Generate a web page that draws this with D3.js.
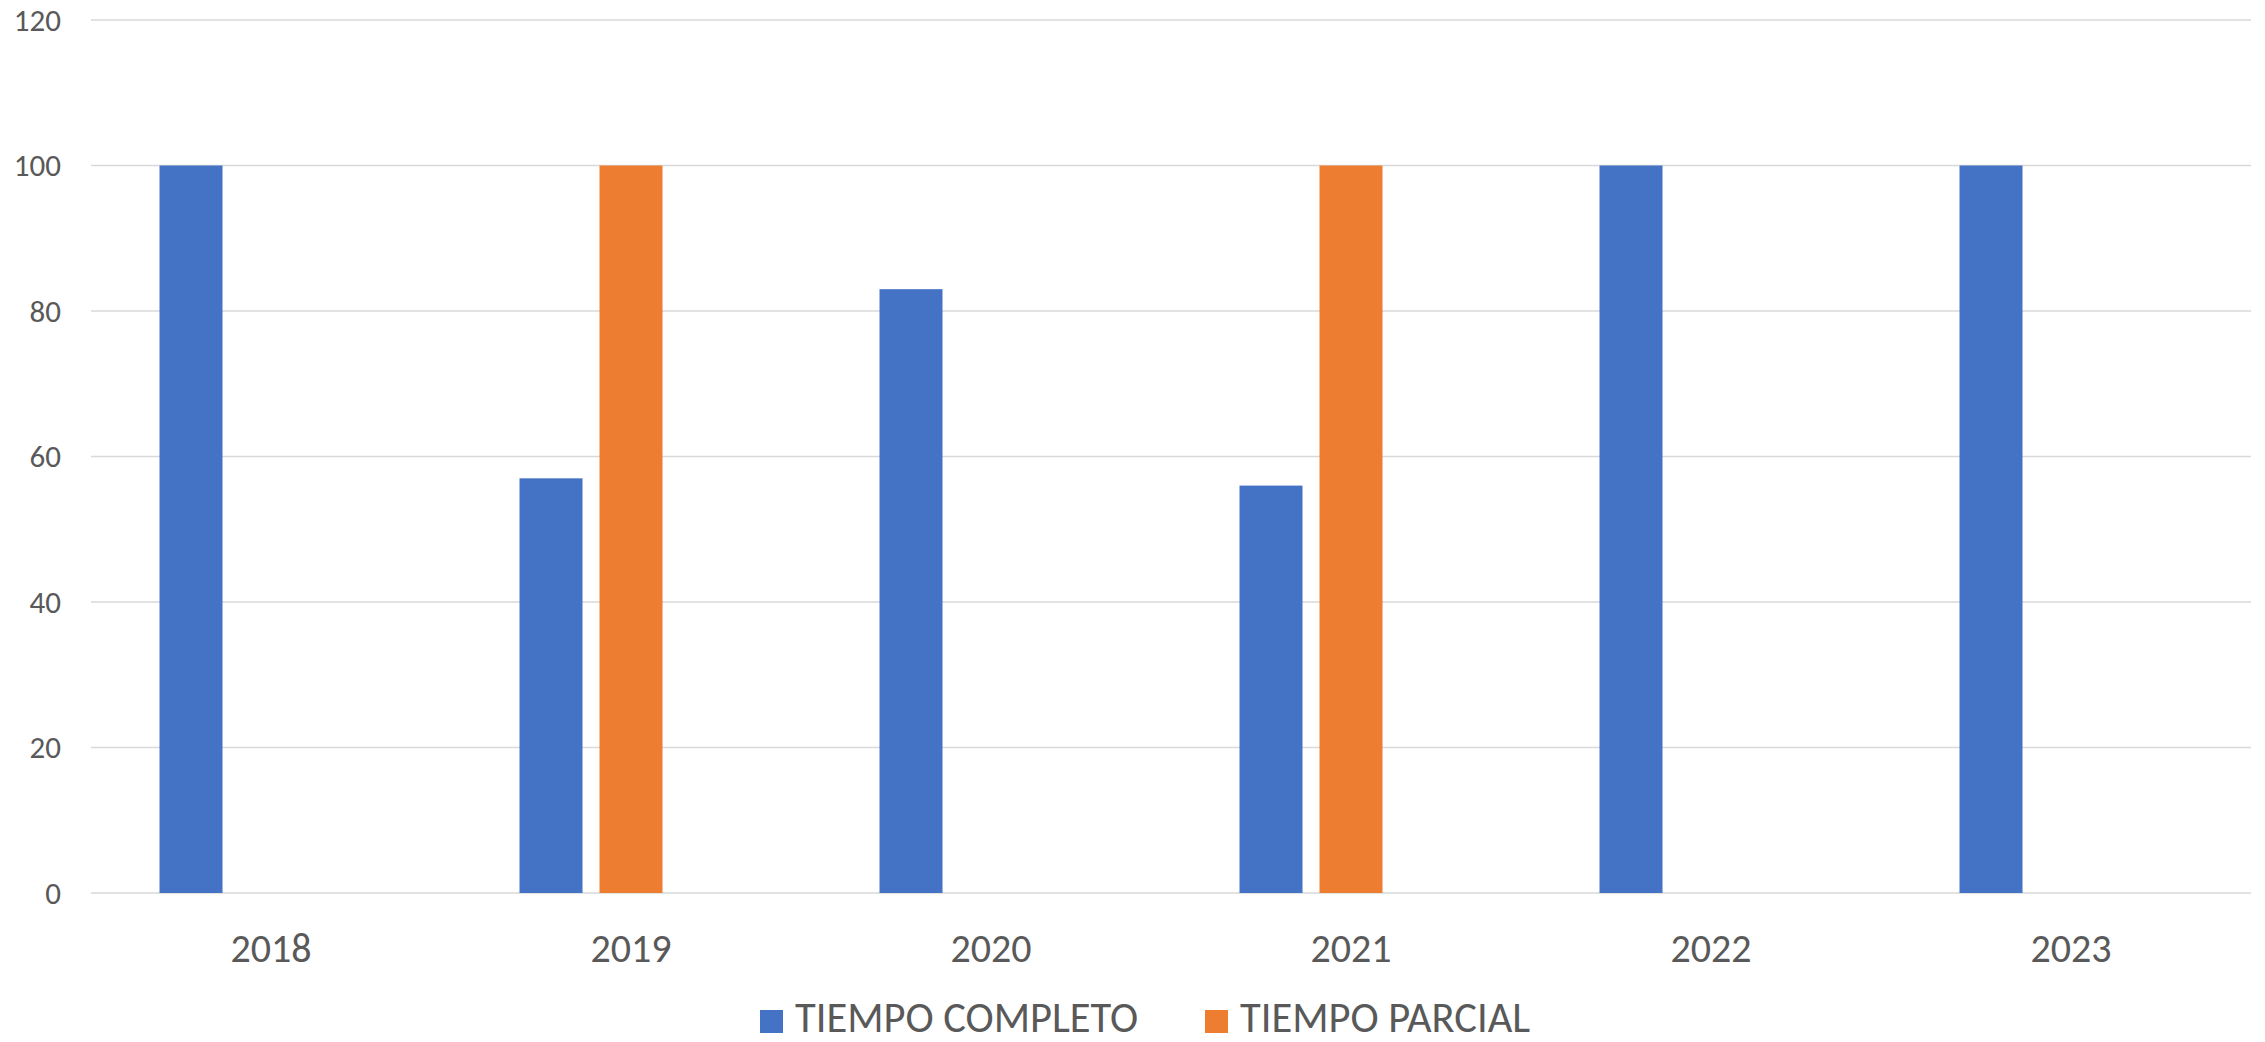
<!DOCTYPE html>
<html><head><meta charset="utf-8">
<script src="https://cdn.jsdelivr.net/npm/d3@7"></script>
<style>
html,body{margin:0;padding:0;background:#fff;}
text{font-family:Carlito, Calibri, Lato, "Open Sans", sans-serif;fill:#595959;}
</style></head>
<body><svg id="c" width="2265" height="1042"></svg>
<script>
const years = ["2018","2019","2020","2021","2022","2023"];
const seriesNames = ["TIEMPO COMPLETO","TIEMPO PARCIAL"];
const tiempoCompleto = [100,57,83,56,100,100];
const tiempoParcial = [0,100,0,100,0,0];
const slots = ["s0","s1","s2"];
const yTicks = [0,20,40,60,80,100,120];
const colors = ["#4472C4","#ED7D31"];

(function(){
const svg = d3.select("#c");
const pl = 91, pr = 2251, pt = 20, pb = 893;
const y = d3.scaleLinear().domain([0,120]).range([pb, pt]);
const x0 = d3.scaleBand().domain(years).range([pl,pr]).paddingInner(0.3806).paddingOuter(0.1903);
const x1 = d3.scaleBand().domain(slots).range([0,x0.bandwidth()]).paddingInner(0.2125).paddingOuter(0);

svg.append("g").selectAll("line").data(yTicks).join("line")
  .attr("x1",pl).attr("x2",pr)
  .attr("y1",d=>y(d)).attr("y2",d=>y(d))
  .attr("stroke","#D9D9D9").attr("stroke-width",1.6);

svg.append("g").selectAll("text").data(yTicks).join("text")
  .attr("x",61).attr("y",d=>y(d)+10.5).attr("text-anchor","end")
  .attr("font-size",31).text(d=>d);

const series = [tiempoCompleto, tiempoParcial];
series.forEach((vals,si)=>{
  svg.append("g").selectAll("rect").data(vals.map((v,i)=>({v,yr:years[i]}))).join("rect")
    .attr("x",d=>x0(d.yr)+x1(slots[si]))
    .attr("width",x1.bandwidth())
    .attr("y",d=>y(d.v))
    .attr("height",d=>y(0)-y(d.v))
    .attr("fill",colors[si]);
});

svg.append("g").selectAll("text").data(years).join("text")
  .attr("x",d=>x0(d)+x0.bandwidth()/2).attr("y",962).attr("text-anchor","middle")
  .attr("font-size",40).text(d=>d);

const legX = [760,1205];
const lg = svg.append("g");
seriesNames.forEach((n,i)=>{
  lg.append("rect").attr("x",legX[i]).attr("y",1010).attr("width",23).attr("height",23).attr("fill",colors[i]);
  lg.append("text").attr("x",legX[i]+35).attr("y",1032).attr("font-size",42.5).text(n);
});
})();
</script></body></html>
